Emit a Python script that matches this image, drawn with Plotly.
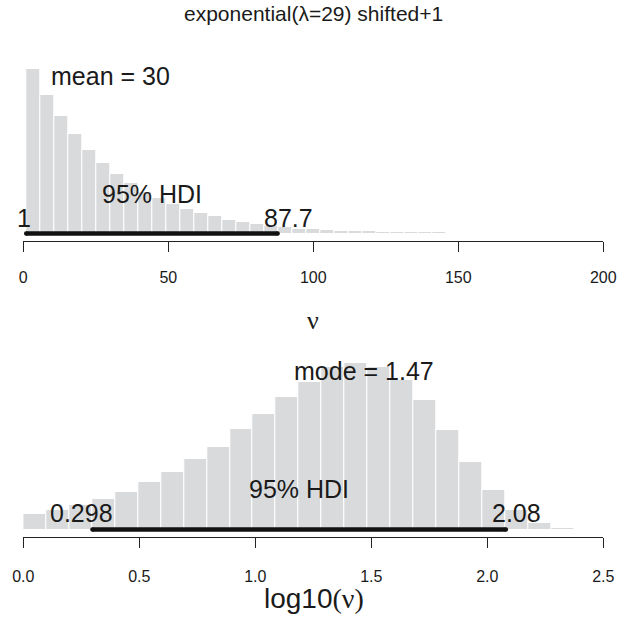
import numpy as np
import plotly.graph_objects as go

# ---------------- data ----------------
title_text = "exponential(λ=29) shifted+1"

# top panel: nu, histogram bars (relative heights), bins start at 1, width ~4.83
top_bin_start = 1.0
top_bin_width = 4.83
top_heights = [165, 138.5, 117.5, 99.5, 84, 71, 60, 50.5, 42, 35.5,
               29.5, 25, 21, 17.5, 14, 12, 9.5, 8, 7, 5,
               4.2, 3.5, 3, 2.5, 2.2, 2, 1.8, 1.6, 1.4, 1.2, 1.0]
top_mean = 30
top_hdi = [1, 87.7]
top_ticks = [0, 50, 100, 150, 200]
top_tick_labels = ["0", "50", "100", "150", "200"]

# bottom panel: log10(nu)
bot_bin_start = 0.0
bot_bin_width = 0.0989
bot_heights = [15.3, 19.5, 24.5, 31, 38, 47.3, 58, 70.6, 82.6, 100.3,
               115.6, 132.3, 147.6, 163, 166.5, 163, 150, 129.3, 99.3, 67.6,
               40, 19.3, 6.6, 1.2]
bot_mode = 1.47
bot_hdi = [0.298, 2.08]
bot_ticks = [0.0, 0.5, 1.0, 1.5, 2.0, 2.5]
bot_tick_labels = ["0.0", "0.5", "1.0", "1.5", "2.0", "2.5"]

# ---------------- styling ----------------
W, H = 617, 624
BAR = "#D9DADC"
TXT = "#1a1a1a"
SANS = "Liberation Sans, Arial, Helvetica, sans-serif"
SERIF = "Liberation Serif, Times New Roman, serif"
ANN = 25

def em_width(s):
    w = {".": 0.278, "%": 0.889, " ": 0.278}
    return sum(w.get(c, 0.556) for c in s)

fig = go.Figure()

def add_panel(heights, start, width, xa, ya):
    n = len(heights)
    centers = start + width * (np.arange(n) + 0.5)
    fig.add_trace(go.Bar(x=centers, y=heights, width=width, xaxis=xa, yaxis=ya,
                         marker=dict(color=BAR, line=dict(color="white", width=1)),
                         hoverinfo="skip", showlegend=False))

def add_hdi(hdi, xa, ya):
    fig.add_trace(go.Scatter(x=hdi, y=[0, 0], xaxis=xa, yaxis=ya, mode="lines+markers",
                             line=dict(color="#111111", width=4.5),
                             marker=dict(color="#111111", size=4.5),
                             hoverinfo="skip", showlegend=False))

add_panel(top_heights, top_bin_start, top_bin_width, "x", "y")
add_panel(bot_heights, bot_bin_start, bot_bin_width, "x2", "y2")
add_hdi(top_hdi, "x", "y")
add_hdi(bot_hdi, "x2", "y2")

xdom = [23.3 / W, 603.3 / W]
axis_common = dict(showgrid=False, zeroline=False, showline=True, linecolor="#222",
                   linewidth=1, ticks="outside", ticklen=10, tickwidth=1, tickcolor="#222",
                   tickfont=dict(family=SANS, size=16, color=TXT), automargin=False)

fig.update_layout(
    width=W, height=H, margin=dict(l=0, r=0, t=0, b=0, autoexpand=False),
    paper_bgcolor="white", plot_bgcolor="white", bargap=0,
    xaxis=dict(domain=xdom, range=[0, 200], tickvals=top_ticks, ticktext=top_tick_labels,
               anchor="y", ticklabelstandoff=11, **axis_common),
    yaxis=dict(domain=[1 - 241.3 / H, 1 - 50 / H], range=[-7.8, 183.5], visible=False,
               automargin=False),
    xaxis2=dict(domain=xdom, range=[0, 2.5], tickvals=bot_ticks, ticktext=bot_tick_labels,
                anchor="y2", ticklabelstandoff=15, **axis_common),
    yaxis2=dict(domain=[1 - 536.7 / H, 1 - 340 / H], range=[-7.2, 189.5], visible=False,
                automargin=False),
)

anns = []
def txt(x, y, s, xref, yref, size=ANN, family=SANS, xanchor="center", xshift=0,
        yanchor="middle"):
    anns.append(dict(x=x, y=y, xref=xref, yref=yref, text=s, showarrow=False,
                     xanchor=xanchor, yanchor=yanchor, xshift=xshift, borderpad=0,
                     font=dict(family=family, size=size, color=TXT)))

# top panel texts
txt(top_mean, 157.5, f"mean = {top_mean}", "x", "y")
txt(sum(top_hdi) / 2, 39.5, "95% HDI", "x", "y")
txt(top_hdi[0], 15.5, f"{top_hdi[0]}", "x", "y", xanchor="left",
    xshift=-0.7 * em_width(str(top_hdi[0])) * ANN)
txt(top_hdi[1], 15.5, f"{top_hdi[1]}", "x", "y", xanchor="left",
    xshift=-0.3 * em_width(str(top_hdi[1])) * ANN)
# bottom panel texts
txt(bot_mode, 158.5, f"mode = {bot_mode}", "x2", "y2")
txt(sum(bot_hdi) / 2, 40.1, "95% HDI", "x2", "y2")
txt(bot_hdi[0], 16.8, f"{bot_hdi[0]}", "x2", "y2", xanchor="left",
    xshift=-0.7 * em_width(str(bot_hdi[0])) * ANN)
txt(bot_hdi[1], 16.8, f"{bot_hdi[1]}", "x2", "y2", xanchor="left",
    xshift=-0.3 * em_width(str(bot_hdi[1])) * ANN)

# title and axis titles
txt(313 / W, 1 - 1 / H, title_text, "paper", "paper", size=21, yanchor="top")
txt(313 / W, 1 - 321 / H, "ν", "paper", "paper", size=26, family=SERIF)
txt(314 / W, 1 - 598 / H,
    f'log10<span style="font-family:{SERIF}">(ν)</span>', "paper", "paper", size=28)

fig.update_layout(annotations=anns)
fig.write_html("out.html", config={"displayModeBar": False},
               post_script="document.body.style.margin='0';"
                           "document.documentElement.style.overflow='hidden';")
